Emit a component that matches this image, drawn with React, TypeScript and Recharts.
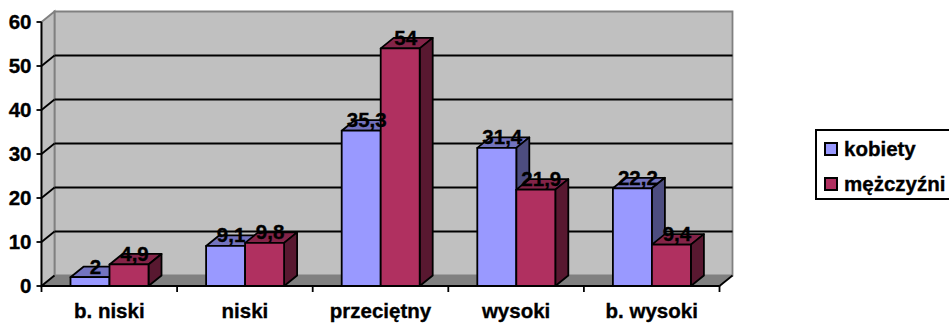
import React from 'react';
import { BarChart, Bar, XAxis, YAxis, CartesianGrid, Legend, LabelList } from 'recharts';

const categories = ['b. niski', 'niski', 'przeciętny', 'wysoki', 'b. wysoki'];
const kobiety = [2, 9.1, 35.3, 31.4, 22.2];
const mezczyzni = [4.9, 9.8, 54, 21.9, 9.4];
const yTicks = [0, 10, 20, 30, 40, 50, 60];

const chartData = categories.map((name, i) => ({ name, kobiety: kobiety[i], mezczyzni: mezczyzni[i] }));

const FONT = '"Liberation Sans", Arial, sans-serif';
const FONT_SIZE = 20.5;
const TEXT_STROKE = 0.35;
const LINE = 1.8;
const DX = 13;
const DY = 10.5;
const PLOT_WIDTH = 678;
const CATEGORY_WIDTH = PLOT_WIDTH / categories.length;

const LIGHT = { front: '#9999ff', top: '#7373bf', side: '#4d4d80' };
const DARK = { front: '#b03060', top: '#842448', side: '#581830' };

const pts = (list: number[][]) => list.map((p) => p.join(',')).join(' ');

const makeBox = (c: typeof LIGHT) => (props: any) => {
  const { x, y, width, height } = props;
  const r = x + width;
  const b = y + height;
  return (
    <g stroke="#000" strokeWidth={LINE} strokeLinejoin="round">
      <polygon points={pts([[x, y], [x + DX, y - DY], [r + DX, y - DY], [r, y]])} fill={c.top} />
      <polygon points={pts([[r, y], [r + DX, y - DY], [r + DX, b - DY], [r, b]])} fill={c.side} />
      <rect x={x} y={y} width={width} height={height} fill={c.front} />
    </g>
  );
};

// walls go in with the first grid line so they stay under everything else
const GridLine = (props: any) => {
  const { x1, x2, y1, index, y, height } = props;
  const top = y;
  const bottom = y + height;
  const isEdge = Math.abs(y1 - top) < 1 || Math.abs(y1 - bottom) < 1;
  return (
    <g>
      {index === 0 && (
        <g>
          <polygon
            points={pts([[x1 + DX, top - DY], [x2 + DX, top - DY], [x2 + DX, bottom - DY], [x1 + DX, bottom - DY]])}
            fill="#c0c0c0"
            stroke="#808080"
            strokeWidth={LINE}
          />
          <polygon
            points={pts([[x1, top], [x1 + DX, top - DY], [x1 + DX, bottom - DY], [x1, bottom]])}
            fill="#c0c0c0"
            stroke="#808080"
            strokeWidth={LINE}
          />
          <polygon
            points={pts([[x1, bottom], [x1 + DX, bottom - DY], [x2 + DX, bottom - DY], [x2, bottom]])}
            fill="#808080"
          />
          <line x1={x1} y1={bottom} x2={x1 + DX} y2={bottom - DY} stroke="#000" strokeWidth={LINE} />
          <line x1={x2} y1={bottom} x2={x2 + DX} y2={bottom - DY} stroke="#000" strokeWidth={LINE} />
        </g>
      )}
      {!isEdge && (
        <g stroke="#000" strokeWidth={LINE} fill="none">
          <line x1={x1} y1={y1} x2={x1 + DX} y2={y1 - DY} />
          <line x1={x1 + DX} y1={y1 - DY} x2={x2 + DX} y2={y1 - DY} />
        </g>
      )}
    </g>
  );
};

const CategoryTick = (props: any) => {
  const { x, y, payload, index } = props;
  const left = x - CATEGORY_WIDTH / 2;
  const lineTop = y - 8;
  return (
    <g>
      <line x1={left} y1={lineTop} x2={left} y2={lineTop + 6} stroke="#000" strokeWidth={LINE} />
      {index === categories.length - 1 && (
        <line
          x1={left + CATEGORY_WIDTH}
          y1={lineTop}
          x2={left + CATEGORY_WIDTH}
          y2={lineTop + 6}
          stroke="#000"
          strokeWidth={LINE}
        />
      )}
      <text
        x={x}
        y={y + 24}
        textAnchor="middle"
        fontFamily={FONT}
        fontSize={FONT_SIZE}
        fontWeight="bold"
        fill="#000"
        stroke="#000"
        strokeWidth={TEXT_STROKE}
      >
        {payload.value}
      </text>
    </g>
  );
};

const ValueLabel = (props: any) => {
  const { x, y, width, value } = props;
  return (
    <text
      x={x + width / 2 + 5.5}
      y={y - 3.5}
      textAnchor="middle"
      fontFamily={FONT}
      fontSize={FONT_SIZE}
      fontWeight="bold"
      fill="#000"
      stroke="#000"
      strokeWidth={TEXT_STROKE}
    >
      {String(value).replace('.', ',')}
    </text>
  );
};

const LegendBox = () => (
  <div
    style={{
      position: 'relative',
      width: 150,
      height: 71,
      boxSizing: 'border-box',
      border: '2px solid #000',
      background: '#fff',
      fontFamily: FONT,
      fontSize: FONT_SIZE,
      fontWeight: 'bold',
      color: '#000',
      WebkitTextStroke: `${TEXT_STROKE}px #000`,
    }}
  >
    {[
      { label: 'kobiety', color: LIGHT.front, top: 11, textTop: 6 },
      { label: 'mężczyźni', color: DARK.front, top: 46, textTop: 41 },
    ].map((row) => (
      <React.Fragment key={row.label}>
        <div
          style={{
            position: 'absolute',
            left: 7,
            top: row.top,
            width: 14,
            height: 14,
            boxSizing: 'border-box',
            border: '2px solid #000',
            background: row.color,
          }}
        />
        <div style={{ position: 'absolute', left: 27, top: row.textTop, lineHeight: '24px', whiteSpace: 'nowrap' }}>
          {row.label}
        </div>
      </React.Fragment>
    ))}
  </div>
);

export default function App() {
  return (
    <div style={{ position: 'absolute', left: 0, top: 0, width: 949, height: 323, overflow: 'hidden' }}>
      <BarChart
        width={949}
        height={323}
        data={chartData}
        margin={{ top: 22, right: 229.5, bottom: 0, left: 0 }}
        barSize={39}
        barGap={0}
      >
        <CartesianGrid horizontal={GridLine as any} vertical={false} />
        <XAxis
          dataKey="name"
          height={37}
          interval={0}
          tickLine={false}
          tick={CategoryTick as any}
          axisLine={{ stroke: '#000', strokeWidth: LINE }}
        />
        <YAxis
          width={41.5}
          domain={[0, 60]}
          ticks={yTicks}
          interval={0}
          tickSize={5}
          tickMargin={5}
          axisLine={{ stroke: '#000', strokeWidth: LINE }}
          tickLine={{ stroke: '#000', strokeWidth: LINE }}
          tick={{
            fontFamily: FONT,
            fontSize: FONT_SIZE,
            fontWeight: 'bold',
            fill: '#000',
            stroke: '#000',
            strokeWidth: TEXT_STROKE,
          }}
        />
        <Legend
          layout="horizontal"
          verticalAlign="middle"
          content={<LegendBox />}
          wrapperStyle={{ left: 815, top: 129, width: 150, height: 71, margin: 0 }}
        />
        <Bar dataKey="kobiety" fill={LIGHT.front} shape={makeBox(LIGHT)} isAnimationActive={false}>
          <LabelList dataKey="kobiety" content={ValueLabel as any} />
        </Bar>
        <Bar dataKey="mezczyzni" fill={DARK.front} shape={makeBox(DARK)} isAnimationActive={false}>
          <LabelList dataKey="mezczyzni" content={ValueLabel as any} />
        </Bar>
      </BarChart>
    </div>
  );
}
